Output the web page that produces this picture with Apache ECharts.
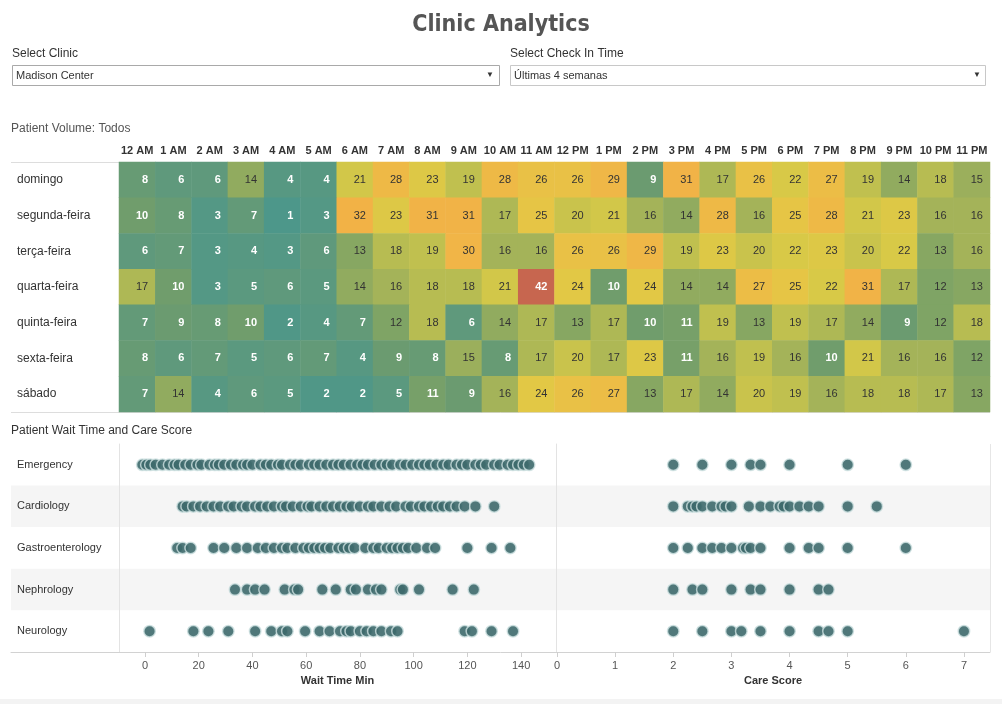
<!DOCTYPE html>
<html>
<head>
<meta charset="utf-8">
<script src="https://cdn.jsdelivr.net/npm/echarts@6/dist/echarts.min.js"></script>
<style>
html,body{margin:0;padding:0;background:#fff;}
#chart{width:1002px;height:704px;}
</style>
</head>
<body>
<div id="chart"></div>
<script>
// ---------- DATA ----------
const hours = ['12 AM','1 AM','2 AM','3 AM','4 AM','5 AM','6 AM','7 AM','8 AM','9 AM','10 AM','11 AM',
               '12 PM','1 PM','2 PM','3 PM','4 PM','5 PM','6 PM','7 PM','8 PM','9 PM','10 PM','11 PM'];
const days = ['domingo','segunda-feira','terça-feira','quarta-feira','quinta-feira','sexta-feira','sábado'];

const volDomingo = [8,6,6,14,4,4,21,28,23,19,28,26,26,29,9,31,17,26,22,27,19,14,18,15];
const volSegunda = [10,8,3,7,1,3,32,23,31,31,17,25,20,21,16,14,28,16,25,28,21,23,16,16];
const volTerca   = [6,7,3,4,3,6,13,18,19,30,16,16,26,26,29,19,23,20,22,23,20,22,13,16];
const volQuarta  = [17,10,3,5,6,5,14,16,18,18,21,42,24,10,24,14,14,27,25,22,31,17,12,13];
const volQuinta  = [7,9,8,10,2,4,7,12,18,6,14,17,13,17,10,11,19,13,19,17,14,9,12,18];
const volSexta   = [8,6,7,5,6,7,4,9,8,15,8,17,20,17,23,11,16,19,16,10,21,16,16,12];
const volSabado  = [7,14,4,6,5,2,2,5,11,9,16,24,26,27,13,17,14,20,19,16,18,18,17,13];

const departments = ['Emergency','Cardiology','Gastroenterology','Nephrology','Neurology'];

const waitEmergency = [-1,0.5,2,4,6.5,9,11,12.5,15,17,19.5,21,24,26,27.5,29.5,32,34,36.5,38,40,43,45,47,49.5,51,54,56,58,61,63,65,67.5,70,72,74,76.5,79,81,83,85.5,88,90,92,95,97,99.5,102,104,106,108.5,111,113,116,118,120,123,125,127,130,132,135,137,139,141,143];
const waitCardiology = [14,15.5,18,20.5,23,25.5,28,31,33,36,38,41,43,45.5,48,51,52.5,55,58,60.5,62,65,67.5,70,72.5,75,77,80,83,85,88,91,93.5,97,99,102,104,106.5,109,111,113.5,116,119,123,130];
const waitGastro = [12,14,17,25.5,29.5,34,38,42,45,48,51,53,56,59,61,63,65,67,69,72,74,76,78,82,85,87,90,92,94,96,98,101,105,108,120,129,136];
const waitNephrology = [33.5,38,41,44.5,52,55.6,57,66,71,76.6,78.5,83,86,88,95,96,102,114.5,122.4];
const waitNeurology = [1.7,18,23.6,31,41,47,51,53,59.6,65,68.7,72.6,75,76.6,80,82.5,85,88,91.6,94,119,121.7,129,137];

const careEmergency = [2,2.5,3,3.33,3.5,4,5,6];
const careCardiology = [2,2.25,2.33,2.4,2.5,2.67,2.83,2.9,3,3.3,3.5,3.67,3.83,3.9,4,4.17,4.33,4.5,5,5.5];
const careGastro = [2,2.25,2.5,2.67,2.83,3,3.2,3.25,3.33,3.5,4,4.33,4.5,5,6];
const careNephrology = [2,2.33,2.5,3,3.33,3.5,4,4.5,4.67];
const careNeurology = [2,2.5,3,3.17,3.5,4,4.5,4.67,5,7];

const waitTicks = [0,20,40,60,80,100,120,140];
const careTicks = [0,1,2,3,4,5,6,7];

// ---------- BUILD ----------
const volumes = [volDomingo,volSegunda,volTerca,volQuarta,volQuinta,volSexta,volSabado];
const heatData = [];
volumes.forEach((row, yi) => row.forEach((v, xi) => {
  const light = v <= 11 || v >= 40;
  heatData.push({value:[xi, yi, v], label:{color: light ? '#ffffff' : '#333333', fontWeight: light ? 'bold' : 'normal'}});
}));

const waitLists = [waitEmergency, waitCardiology, waitGastro, waitNephrology, waitNeurology];
const careLists = [careEmergency, careCardiology, careGastro, careNephrology, careNeurology];
const waitData = [], careData = [];
waitLists.forEach((arr, i) => arr.forEach(v => waitData.push([v, departments[i]])));
careLists.forEach((arr, i) => arr.forEach(v => careData.push([v, departments[i]])));

const FONT = 'Liberation Sans, Arial, sans-serif';
const chart = echarts.init(document.getElementById('chart'), null, {renderer:'canvas'});

const dotStyle = {color:'#3d696b', opacity:0.9, borderColor:'rgba(205,224,224,0.9)', borderWidth:1.5};

function txt(x, y, text, opts) {
  return Object.assign({type:'text', x:x, y:y, silent:true,
    style: Object.assign({text:text, fill:'#333', fontSize:12, fontFamily:FONT, align:'left', verticalAlign:'middle'}, opts || {})});
}
function hline(x1, x2, y, c) {
  return {type:'line', silent:true, shape:{x1:x1, y1:y+0.5, x2:x2, y2:y+0.5}, style:{stroke:c || '#dcdcdc', lineWidth:1}};
}

const option = {
  backgroundColor:'#ffffff',
  animation:false,
  textStyle:{fontFamily:FONT},
  graphic:[
    txt(501, 25, 'Clinic Analytics', {fontSize:23, fontWeight:'bold', fill:'#555', align:'center', fontFamily:'Liberation Sans Narrow, DejaVu Sans Condensed, sans-serif'}),
    txt(12, 54, 'Select Clinic', {fontSize:12, fill:'#333'}),
    txt(510, 54, 'Select Check In Time', {fontSize:12, fill:'#333'}),
    {type:'rect', silent:true, shape:{x:12.5, y:65.5, width:487, height:20}, style:{fill:'#fff', stroke:'#a9a9a9', lineWidth:1}},
    {type:'rect', silent:true, shape:{x:510.5, y:65.5, width:475, height:20}, style:{fill:'#fff', stroke:'#c8c8c8', lineWidth:1}},
    txt(16, 75.5, 'Madison Center', {fontSize:11, fill:'#333'}),
    txt(514, 75.5, 'Últimas 4 semanas', {fontSize:11, fill:'#333'}),
    txt(490, 75, '▼', {fontSize:8, fill:'#333', align:'center'}),
    txt(977, 75, '▼', {fontSize:8, fill:'#333', align:'center'}),
    txt(11, 129, 'Patient Volume: Todos', {fontSize:12, fill:'#555'}),
    hline(11, 990, 162, '#dddddd'),
    hline(11, 990, 412, '#dddddd'),
    txt(11, 431, 'Patient Wait Time and Care Score', {fontSize:12, fill:'#333'}),
    hline(11, 990, 444, '#dddddd'),
    {type:'line', silent:true, shape:{x1:990.5, y1:444, x2:990.5, y2:652}, style:{stroke:'#e6e6e6', lineWidth:1}},
    {type:'rect', silent:true, shape:{x:0, y:699, width:1002, height:5}, style:{fill:'#f3f3f3'}}
  ],
  visualMap:{
    show:false, type:'continuous', min:1, max:42, dimension:2, seriesIndex:0,
    inRange:{color:['#4d978a','#579882','#629a79','#6e9c6d','#84a663','#a1b25a','#bcbe50','#d6c947',
                    '#e4c845','#edbb46','#f1b447','#f2b046','#e39a4a','#d5804c','#c7664f']}
  },
  grid:[
    {left:119, top:162, width:871, height:250},
    {left:11, top:444, width:979, height:208},
    {left:119, top:444, width:437, height:208},
    {left:556, top:444, width:434, height:208}
  ],
  xAxis:[
    {type:'category', gridIndex:0, data:hours, position:'top',
     axisLine:{show:false}, axisTick:{show:false}, splitLine:{show:false},
     axisLabel:{interval:0, fontSize:11, fontWeight:'bold', color:'#333', margin:6}},
    {type:'value', gridIndex:1, min:0, max:1,
     axisLine:{show:true, lineStyle:{color:'#d2d2d2'}}, axisTick:{show:false}, axisLabel:{show:false}, splitLine:{show:false}},
    {type:'value', gridIndex:2, min:-9.68, max:153,
     axisLine:{show:false}, splitLine:{show:false},
     axisTick:{show:true, customValues:waitTicks, length:5, lineStyle:{color:'#cfcfcf'}},
     axisLabel:{customValues:waitTicks, fontSize:11, color:'#555', margin:8},
     name:'Wait Time Min', nameLocation:'middle', nameGap:23,
     nameTextStyle:{fontSize:11, fontWeight:'bold', color:'#333'}},
    {type:'value', gridIndex:3, min:-0.017, max:7.448,
     axisLine:{show:false}, splitLine:{show:false},
     axisTick:{show:true, customValues:careTicks, length:5, lineStyle:{color:'#cfcfcf'}},
     axisLabel:{customValues:careTicks, fontSize:11, color:'#555', margin:8},
     name:'Care Score', nameLocation:'middle', nameGap:23,
     nameTextStyle:{fontSize:11, fontWeight:'bold', color:'#333'}}
  ],
  yAxis:[
    {type:'category', gridIndex:0, data:days, inverse:true,
     axisLine:{show:false}, axisTick:{show:false}, splitLine:{show:false},
     axisLabel:{align:'left', margin:102, fontSize:12, color:'#333'}},
    {type:'category', gridIndex:1, data:departments, inverse:true,
     axisLine:{show:false}, axisTick:{show:false}, splitLine:{show:false},
     splitArea:{show:true, areaStyle:{color:['#ffffff','#f5f5f5']}},
     axisLabel:{inside:true, margin:6, fontSize:11, color:'#333'}},
    {type:'category', gridIndex:2, data:departments, inverse:true,
     axisLine:{show:true, onZero:false, lineStyle:{color:'#e3e3e3'}}, axisTick:{show:false}, axisLabel:{show:false}, splitLine:{show:false}},
    {type:'category', gridIndex:3, data:departments, inverse:true,
     axisLine:{show:true, onZero:false, lineStyle:{color:'#e3e3e3'}}, axisTick:{show:false}, axisLabel:{show:false}, splitLine:{show:false}}
  ],
  series:[
    {type:'heatmap', xAxisIndex:0, yAxisIndex:0, data:heatData,
     itemStyle:{borderWidth:0},
     label:{show:true, position:['80%','50%'], align:'right', verticalAlign:'middle', fontSize:11, fontFamily:FONT},
     emphasis:{disabled:true}},
    {type:'scatter', xAxisIndex:2, yAxisIndex:2, data:waitData, symbolSize:11.5, itemStyle:dotStyle, emphasis:{disabled:true}},
    {type:'scatter', xAxisIndex:3, yAxisIndex:3, data:careData, symbolSize:11.5, itemStyle:dotStyle, emphasis:{disabled:true}}
  ]
};
chart.setOption(option);
</script>
</body>
</html>
